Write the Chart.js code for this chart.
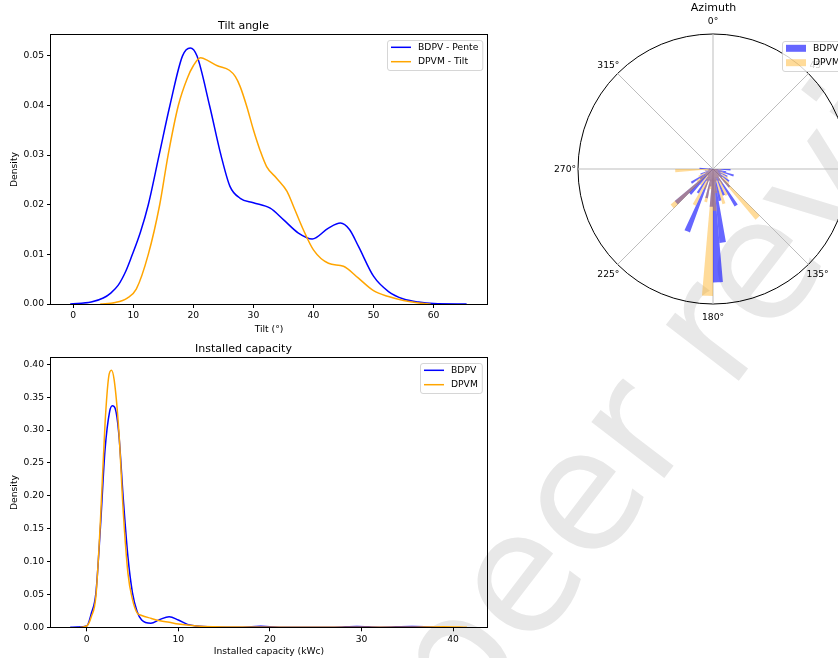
<!DOCTYPE html>
<html><head><meta charset="utf-8">
<script src="https://cdn.jsdelivr.net/npm/chart.js@4.4.1/dist/chart.umd.min.js"></script>
<style>
html,body{margin:0;padding:0;width:838px;height:658px;overflow:hidden;background:#fff;}
#wm{position:absolute;left:720px;top:310px;transform:translate(-50%,-50%) rotate(-52.5deg);font-family:'DejaVu Sans',sans-serif;font-size:168px;line-height:1;color:#e8e8e8;white-space:nowrap;z-index:0;}
.box{position:absolute;z-index:1;}
canvas{display:block;}
</style></head>
<body>
<div id="wm">peer review</div>
<div class="box" style="left:0;top:0;width:500px;height:340px"><canvas id="tilt" width="500" height="340"></canvas></div>
<div class="box" style="left:0;top:340px;width:500px;height:318px"><canvas id="cap" width="500" height="318"></canvas></div>
<div class="box" style="left:530px;top:0;width:330px;height:340px"><canvas id="azi" width="330" height="340"></canvas></div>
<script>
// ---------- Tilt angle (KDE density) ----------
const tiltBdpvX = [-0.5,3,5,6.25,7.5,8.75,9.7,11.2,12.5,14.3,16.1,18.2,19.5,20.6,22.7,24.6,26.1,27.8,30,32.8,35,37.5,39.8,42.5,44.5,46,47.5,50,52.5,55,57.5,60,65.5];
const tiltBdpvY = [0,0.0004,0.0012,0.0022,0.0038,0.0066,0.0095,0.0145,0.0200,0.0300,0.0400,0.0500,0.0516,0.0500,0.0400,0.0300,0.0237,0.0213,0.0204,0.0193,0.0170,0.0143,0.0131,0.0153,0.0163,0.0150,0.0116,0.0056,0.0025,0.0010,0.0004,0.0001,0];
const tiltDpvmX = [4.5,7,9,10.5,12.5,14.4,15.8,17.5,19,20,21.2,22.5,24,26,27,27.8,28.9,30,31.1,32.2,33.9,35.6,36.7,38.3,40,42.5,45,47.5,50,52.5,55,57.5,59.5];
const tiltDpvmY = [0,0.0003,0.0012,0.0030,0.0100,0.0200,0.0300,0.0400,0.0455,0.0480,0.0496,0.0490,0.0480,0.0471,0.0458,0.0438,0.0398,0.0351,0.0310,0.0277,0.0253,0.0227,0.0196,0.0150,0.0109,0.0082,0.0076,0.0052,0.0027,0.0015,0.0007,0.0002,0];

// ---------- Installed capacity (KDE density) ----------
const capBdpvX = [-1.8,-1,0,0.5,1,1.5,2,2.5,2.8,3.1,3.5,4,4.5,5,5.5,6,7,8,9,10,11,12,14,17,19,21,27,29.5,32,35.5,38.6];
const capBdpvY = [0,0.0003,0.002,0.021,0.052,0.153,0.270,0.328,0.337,0.333,0.295,0.194,0.107,0.052,0.024,0.011,0.006,0.012,0.016,0.011,0.0045,0.002,0.0005,0.0001,0.0015,0.0001,0.0001,0.0012,0.0001,0.0012,0];
const capDpvmX = [-0.7,0,0.5,1,1.5,2,2.4,2.7,3,3.5,4,4.5,5,5.5,6,7,8,9,10,12,14,16,25,35,39,41.5];
const capDpvmY = [0,0.002,0.016,0.047,0.163,0.310,0.381,0.391,0.376,0.300,0.173,0.082,0.042,0.022,0.018,0.0137,0.010,0.0076,0.005,0.002,0.0008,0.0003,0.0002,0.0002,0.001,0];

// ---------- Azimuth (5° bins, start angle of each bin; radius relative to outer circle) ----------
const aziBinStart = [90,95,100,105,110,115,120,125,130,135,140,145,150,155,160,165,170,175,180,185,190,195,200,205,210,215,220,225,230,235,240,245,250,255,260,265,270,275];
const aziBdpv = [0.13,0.04,0.10,0.16,0.06,0.12,0.07,0.15,0.09,0.18,0.07,0.32,0.10,0.21,0.09,0.24,0.55,0.84,0.28,0.13,0.22,0.09,0.50,0.10,0.21,0.06,0.25,0.37,0.12,0.19,0.06,0.10,0.04,0.06,0.03,0.04,0.10,0.03];
const aziDpvm = [0.06,0.03,0.07,0.04,0.10,0.04,0.13,0.06,0.16,0.49,0.07,0.13,0.22,0.07,0.27,0.10,0.18,0.31,0.94,0.15,0.25,0.09,0.16,0.30,0.09,0.15,0.07,0.41,0.15,0.07,0.12,0.04,0.06,0.03,0.07,0.28,0.04,0];
const aziTickAngles = [0,45,90,135,180,225,270,315];
const aziTickLabels = ['0°','45°','90°','135°','180°','225°','270°','315°'];

const BIN = 5, NBINS = 360 / BIN;
const FS = 9.2;

Chart.defaults.font.family = "'DejaVu Sans', sans-serif";
Chart.defaults.font.size = FS;
Chart.defaults.color = '#000';
Chart.defaults.animation = false;

const FONT = FS + 'px "DejaVu Sans", sans-serif';

const frame = {
  id: 'frame',
  afterDatasetsDraw(chart, args, o) {
    if (!o || !o.show) return;
    const {left, top, right, bottom} = chart.chartArea;
    const ctx = chart.ctx;
    ctx.save();
    ctx.strokeStyle = '#000';
    ctx.lineWidth = 1;
    const l = Math.round(left) - 0.5, t = Math.round(top) - 0.5, r = Math.round(right) + 0.5, b = Math.round(bottom) + 0.5;
    ctx.strokeRect(l, t, r - l, b - t);
    ctx.restore();
  }
};

const mplLegend = {
  id: 'mplLegend',
  afterDraw(chart, args, o) {
    if (!o || !o.kind) return;
    const ctx = chart.ctx, ca = chart.chartArea;
    ctx.save();
    ctx.font = FONT;
    const ds = chart.data.datasets;
    const tw = Math.max(...ds.map(d => ctx.measureText(d.label).width));
    const padL = 3.5, hl = 20, gap = 7, padR = 4.5, rowH = 14.4, h = 30;
    const w = padL + hl + gap + tw + padR;
    let x, y;
    if (o.kind === 'line') { x = ca.right - 5 - w; y = ca.top + 5; }
    else { const s = chart.scales.r; x = s.xCenter + o.dx; y = ca.top + o.dy; }
    x = Math.round(x) + 0.5; y = Math.round(y) + 0.5;
    ctx.beginPath();
    ctx.roundRect(x, y, w, h, 2.5);
    ctx.fillStyle = 'rgba(255,255,255,0.8)';
    ctx.fill();
    ctx.strokeStyle = 'rgba(204,204,204,0.8)';
    ctx.lineWidth = 1;
    ctx.stroke();
    ds.forEach((d, i) => {
      const cy = y + 6.8 + i * rowH;
      if (o.kind === 'line') {
        ctx.strokeStyle = d.borderColor; ctx.lineWidth = 1.5;
        ctx.beginPath(); ctx.moveTo(x + padL, cy); ctx.lineTo(x + padL + hl, cy); ctx.stroke();
      } else {
        ctx.fillStyle = d.backgroundColor;
        ctx.fillRect(x + padL, cy - 3.5, hl, 7);
      }
      ctx.fillStyle = '#000'; ctx.textAlign = 'left'; ctx.textBaseline = 'middle';
      ctx.fillText(d.label, x + padL + hl + gap, cy);
    });
    ctx.restore();
  }
};

const polarLabels = {
  id: 'polarLabels',
  afterDatasetsDraw(chart, args, o) {
    if (!o || !o.angles) return;
    const s = chart.scales.r, ctx = chart.ctx;
    ctx.save();
    ctx.font = FONT; ctx.fillStyle = '#000';
    ctx.textAlign = 'center'; ctx.textBaseline = 'middle';
    o.angles.forEach((a, i) => {
      const p = s.getPointPosition(a / BIN, s.drawingArea + 13);
      ctx.fillText(o.labels[i], p.x, p.y + 1);
    });
    ctx.restore();
  }
};
Chart.register(frame, mplLegend, polarLabels);

const zip = (xs, ys) => xs.map((x, i) => ({x, y: ys[i]}));

function lineChart(id, cfg) {
  return new Chart(document.getElementById(id), {
    type: 'line',
    data: {datasets: [
      {label: cfg.names[0], data: zip(cfg.bx, cfg.by), borderColor: '#0000ff', backgroundColor: '#0000ff', borderWidth: 1.5, pointRadius: 0, cubicInterpolationMode: 'monotone', fill: false, order: 1},
      {label: cfg.names[1], data: zip(cfg.ox, cfg.oy), borderColor: '#ffa500', backgroundColor: '#ffa500', borderWidth: 1.5, pointRadius: 0, cubicInterpolationMode: 'monotone', fill: false, order: 0}
    ]},
    options: {
      responsive: false, animation: false,
      layout: {padding: {left: 0, right: 13, top: 0, bottom: 0}},
      plugins: {
        legend: {display: false}, tooltip: {enabled: false},
        title: {display: true, text: cfg.title, font: {size: 11, weight: 'normal'}, color: '#000', padding: cfg.titlePad},
        frame: {show: true}, mplLegend: {kind: 'line'}
      },
      scales: {
        x: {type: 'linear', min: cfg.xmin, max: cfg.xmax,
          ticks: {stepSize: 10, includeBounds: false, padding: 2.5, color: '#000', maxRotation: 0, autoSkip: false, callback: v => String(v)},
          grid: {display: true, drawOnChartArea: false, drawTicks: true, tickLength: 4, color: '#000', lineWidth: 1},
          border: {display: false},
          title: {display: true, text: cfg.xtitle, color: '#000', padding: {top: 0, bottom: cfg.xtpb}},
          afterFit: s => { s.height = cfg.xh; }
        },
        y: {type: 'linear', min: 0, max: cfg.ymax,
          ticks: {stepSize: cfg.ystep, includeBounds: false, padding: 3, color: '#000', autoSkip: false, callback: v => v.toFixed(2)},
          grid: {display: true, drawOnChartArea: false, drawTicks: true, tickLength: 4, color: '#000', lineWidth: 1},
          border: {display: false},
          title: {display: true, text: 'Density', color: '#000', padding: {top: 9.5, bottom: 0}},
          afterFit: s => { s.width = 51; }
        }
      }
    }
  });
}

lineChart('tilt', {
  title: 'Tilt angle', titlePad: {top: 19.5, bottom: 2.3},
  names: ['BDPV - Pente', 'DPVM - Tilt'],
  bx: tiltBdpvX, by: tiltBdpvY, ox: tiltDpvmX, oy: tiltDpvmY,
  xmin: -3.7, xmax: 68.9, ymax: 0.0542, ystep: 0.01,
  xtitle: 'Tilt (°)', xtpb: 5, xh: 36
});

lineChart('cap', {
  title: 'Installed capacity', titlePad: {top: 2.3, bottom: 2.2},
  names: ['BDPV', 'DPVM'],
  bx: capBdpvX, by: capBdpvY, ox: capDpvmX, oy: capDpvmY,
  xmin: -3.9, xmax: 43.7, ymax: 0.41, ystep: 0.05,
  xtitle: 'Installed capacity (kWc)', xtpb: 1, xh: 30.7
});

// Polar area table built from the bin arrays
const aziLabels = Array.from({length: NBINS}, (_, i) => (i * BIN) + '°');
const fullBins = vals => { const a = new Array(NBINS).fill(0); aziBinStart.forEach((b, i) => { a[b / BIN] = vals[i]; }); return a; };

new Chart(document.getElementById('azi'), {
  type: 'polarArea',
  data: {labels: aziLabels, datasets: [
    {label: 'BDPV', data: fullBins(aziBdpv), backgroundColor: 'rgba(0,0,255,0.6)', borderWidth: 0, order: 1},
    {label: 'DPVM', data: fullBins(aziDpvm), backgroundColor: 'rgba(255,165,0,0.4)', borderWidth: 0, order: 0}
  ]},
  options: {
    responsive: false, animation: false,
    layout: {padding: {left: 48.5, right: 11.5, top: 0, bottom: 35.5}},
    plugins: {
      legend: {display: false}, tooltip: {enabled: false},
      title: {display: true, text: 'Azimuth', font: {size: 11, weight: 'normal'}, color: '#000', padding: {top: 1.5, bottom: 19.8}},
      mplLegend: {kind: 'patch', dx: 68.5, dy: 6.5},
      polarLabels: {angles: aziTickAngles, labels: aziTickLabels}
    },
    scales: {
      r: {min: 0, max: 1, startAngle: 0,
        ticks: {display: false, stepSize: 1},
        grid: {display: true, circular: true, color: '#000', lineWidth: 1},
        angleLines: {display: true, color: '#bdbdbd', lineWidth: c => (c.index % 9 === 0 ? 1 : 0)},
        pointLabels: {display: false}
      }
    }
  }
});
</script>
</body></html>
